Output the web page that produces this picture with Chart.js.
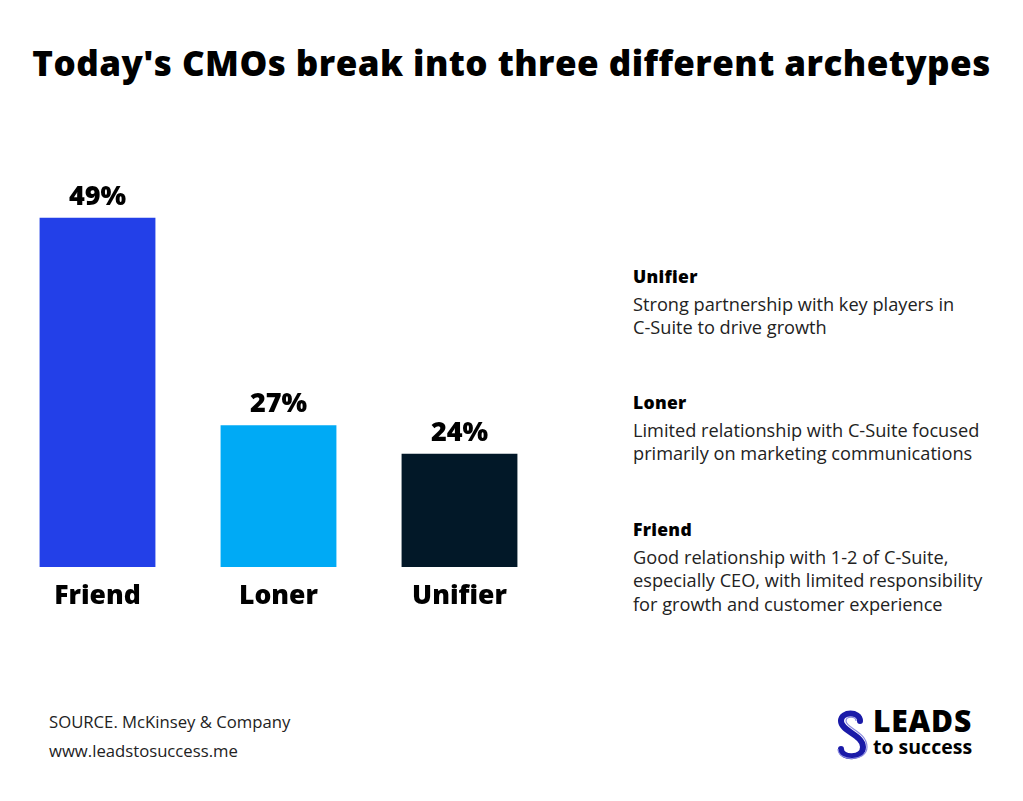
<!DOCTYPE html>
<html>
<head>
<meta charset="utf-8">
<script src="https://cdn.jsdelivr.net/npm/chart.js@4.4.0/dist/chart.umd.min.js"></script>
<style>
  html, body { margin:0; padding:0; background:#fff; }
  body { width:1023px; height:801px; position:relative; overflow:hidden; font-family:"Open Sans", sans-serif; color:#111; }
  #title { position:absolute; left:0; top:39px; width:1023px; text-align:center; font-family:"Open Sans", sans-serif; font-weight:800; font-size:35px; letter-spacing:0.45px; color:#000; white-space:nowrap; }
  #chartBox { position:absolute; left:0; top:0; width:560px; height:640px; }
  .desc { position:absolute; left:633px; font-size:18.2px; line-height:23.5px; color:#222; white-space:nowrap; }
  .desc b { display:block; font-family:"Open Sans", sans-serif; font-weight:800; font-size:17.5px; letter-spacing:0.3px; color:#000; margin-bottom:4px; }
  .foot { position:absolute; left:49px; font-size:16.7px; color:#222; }
  #logo { position:absolute; left:836px; top:705px; width:150px; height:55px; }
  #logo .l1 { position:absolute; left:37px; top:-5px; font-family:"Open Sans", sans-serif; font-weight:800; font-size:30px; color:#000; letter-spacing:0.8px; }
  #logo .l2 { position:absolute; left:37px; top:28px; font-family:"Open Sans", sans-serif; font-weight:700; font-size:19.5px; color:#000; }
</style>
</head>
<body>
<div id="title">Today's CMOs break into three different archetypes</div>
<div id="chartBox"><canvas id="c"></canvas></div>

<div class="desc" style="top:265px"><b>Unifier</b>Strong partnership with key players in<br>C-Suite to drive growth</div>
<div class="desc" style="top:391px"><b>Loner</b>Limited relationship with C-Suite focused<br>primarily on marketing communications</div>
<div class="desc" style="top:518px"><b>Friend</b>Good relationship with 1-2 of C-Suite,<br>especially CEO, with limited responsibility<br>for growth and customer experience</div>

<div class="foot" style="top:710px">SOURCE. McKinsey &amp; Company</div>
<div class="foot" style="top:739px">www.leadstosuccess.me</div>

<div id="logo">
  <svg width="34" height="55" viewBox="0 0 34 55" style="position:absolute;left:0;top:2px">
    <path d="M24 14 C24 4 5 4 5 14 C5 24 27 28 27 40 C27 52 5 52 5 42" fill="none" stroke="#1a1aa8" stroke-width="6" stroke-linecap="round"/>
    <path d="M20 14 C20 9 10 9 10 14 C10 21 31 25 31 40 C31 55 2 55 2 42" fill="none" stroke="#8a8ae0" stroke-width="1.2"/>
  </svg>
  <div class="l1">LEADS</div>
  <div class="l2">to success</div>
</div>

<script>
const categories = ["Friend", "Loner", "Unifier"];
const shares = [49, 27, 24];
const barColors = ["#2340e8", "#00aaf5", "#021828"];

const valueLabels = {
  id: "valueLabels",
  afterDatasetsDraw(chart) {
    const ctx = chart.ctx;
    const meta = chart.getDatasetMeta(0);
    ctx.save();
    ctx.font = "800 27px 'Open Sans', sans-serif";
    ctx.fillStyle = "#000";
    ctx.textAlign = "center";
    ctx.textBaseline = "alphabetic";
    meta.data.forEach((bar, i) => {
      ctx.fillText(shares[i] + "%", bar.x, bar.y - 13);
    });
    ctx.restore();
  }
};

new Chart(document.getElementById("c"), {
  type: "bar",
  data: {
    labels: categories,
    datasets: [{
      data: shares,
      backgroundColor: barColors,
      borderWidth: 0,
      categoryPercentage: 1,
      barPercentage: 0.64
    }]
  },
  options: {
    responsive: true,
    maintainAspectRatio: false,
    animation: false,
    layout: { padding: { left: 7, right: 10, top: 161, bottom: 0 } },
    plugins: { legend: { display: false }, tooltip: { enabled: false } },
    scales: {
      x: {
        grid: { display: false, drawTicks: false },
        border: { display: false },
        ticks: { color: "#000", font: { family: "'Open Sans', sans-serif", weight: "800", size: 26.5 }, padding: 14 },
        afterFit(s) { s.height = 73; }
      },
      y: {
        display: false,
        min: 12,
        max: 55
      }
    }
  },
  plugins: [valueLabels]
});
</script>
</body>
</html>
